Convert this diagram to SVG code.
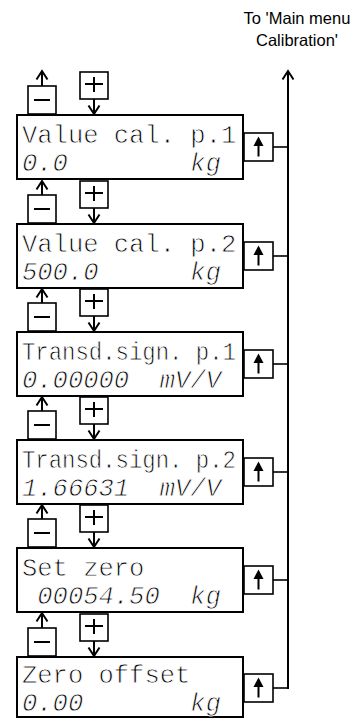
<svg xmlns="http://www.w3.org/2000/svg" width="353" height="719" viewBox="0 0 353 719">
<style>
.scr{fill:#fff;stroke:#000;stroke-width:2}
.btn{fill:#fff;stroke:#000;stroke-width:1.6}
.sym{stroke:#000;stroke-width:2;fill:none}
.ln{stroke:#000;stroke-width:1.6;fill:none}
.arr{stroke:#000;stroke-width:2;fill:none;marker-end:url(#open)}
.t1{font-family:"Liberation Mono","Courier New",monospace;font-size:25.5px;fill:#000;stroke:#fff;stroke-width:0.8px}
.t2{font-family:"Liberation Mono","Courier New",monospace;font-size:25.5px;font-style:italic;fill:#000;stroke:#fff;stroke-width:0.8px}
.hd{font-family:"Liberation Sans",Arial,sans-serif;font-size:16.5px;fill:#000;text-anchor:middle}
</style>
<defs>
<marker id="open" markerUnits="userSpaceOnUse" markerWidth="10" markerHeight="12" viewBox="0 0 10 12" refX="9" refY="6" orient="auto" overflow="visible">
<path d="M0.5,0.5 L9,6 L0.5,11.5" fill="none" stroke="#000" stroke-width="2"/>
</marker>
<g id="upbtn">
<rect class="btn" x="0" y="0" width="29" height="28"/>
<polygon points="9.5,13 14.5,3.5 19.5,13" fill="#000"/>
<rect x="13.5" y="12" width="2" height="11.5" fill="#000"/>
</g>
<g id="minus">
<rect class="btn" x="0" y="0" width="28" height="28"/>
<line class="sym" x1="6" y1="14" x2="22" y2="14"/>
</g>
<g id="plus">
<rect class="btn" x="0" y="0" width="28" height="27"/>
<line class="sym" x1="5" y1="12" x2="23" y2="12"/>
<line class="sym" x1="14" y1="5" x2="14" y2="20"/>
</g>
</defs>
<rect width="353" height="719" fill="#fff"/>

<g id="header">
<text class="hd" x="297" y="24">To 'Main menu</text>
<text class="hd" x="297" y="46">Calibration'</text>
</g>

<g id="connectors">
<line class="arr" x1="288" y1="689" x2="288" y2="71"/>
<line class="ln" x1="273" y1="147" x2="288" y2="147"/>
<line class="ln" x1="273" y1="256" x2="288" y2="256"/>
<line class="ln" x1="273" y1="364" x2="288" y2="364"/>
<line class="ln" x1="273" y1="472" x2="288" y2="472"/>
<line class="ln" x1="273" y1="580" x2="288" y2="580"/>
<line class="ln" x1="273" y1="688" x2="288" y2="688"/>
<line class="arr" x1="42" y1="86" x2="42" y2="71"/>
<line class="arr" x1="94" y1="99" x2="94" y2="114"/>
<line class="arr" x1="42" y1="195" x2="42" y2="181"/>
<line class="arr" x1="94" y1="208" x2="94" y2="223"/>
<line class="arr" x1="42" y1="303" x2="42" y2="289"/>
<line class="arr" x1="94" y1="316" x2="94" y2="331"/>
<line class="arr" x1="42" y1="411" x2="42" y2="397"/>
<line class="arr" x1="94" y1="424" x2="94" y2="439"/>
<line class="arr" x1="42" y1="519" x2="42" y2="505"/>
<line class="arr" x1="94" y1="532" x2="94" y2="547"/>
<line class="arr" x1="42" y1="628" x2="42" y2="613"/>
<line class="arr" x1="94" y1="641" x2="94" y2="656"/>
</g>

<g id="node1">
<use href="#minus" x="28" y="86"/>
<use href="#plus" x="80" y="72"/>
<rect class="scr" x="17" y="115" width="226" height="64"/>
<text class="t1" x="22" y="143">Value cal. p.1</text>
<text class="t2" x="22" y="171" xml:space="preserve">0.0        kg</text>
<use href="#upbtn" x="244" y="133"/>
</g>

<g id="node2">
<use href="#minus" x="28" y="195"/>
<use href="#plus" x="80" y="181"/>
<rect class="scr" x="17" y="224" width="226" height="64"/>
<text class="t1" x="22" y="252">Value cal. p.2</text>
<text class="t2" x="22" y="280" xml:space="preserve">500.0      kg</text>
<use href="#upbtn" x="244" y="242"/>
</g>

<g id="node3">
<use href="#minus" x="28" y="303"/>
<use href="#plus" x="80" y="289"/>
<rect class="scr" x="17" y="332" width="226" height="64"/>
<text class="t1" x="22" y="360" textLength="214" lengthAdjust="spacingAndGlyphs">Transd.sign. p.1</text>
<text class="t2" x="22" y="388" xml:space="preserve">0.00000  mV/V</text>
<use href="#upbtn" x="244" y="350"/>
</g>

<g id="node4">
<use href="#minus" x="28" y="411"/>
<use href="#plus" x="80" y="397"/>
<rect class="scr" x="17" y="440" width="226" height="64"/>
<text class="t1" x="22" y="468" textLength="214" lengthAdjust="spacingAndGlyphs">Transd.sign. p.2</text>
<text class="t2" x="22" y="496" xml:space="preserve">1.66631  mV/V</text>
<use href="#upbtn" x="244" y="458"/>
</g>

<g id="node5">
<use href="#minus" x="28" y="519"/>
<use href="#plus" x="80" y="505"/>
<rect class="scr" x="17" y="548" width="226" height="64"/>
<text class="t1" x="22" y="576">Set zero</text>
<text class="t2" x="22" y="604" xml:space="preserve"> 00054.50  kg</text>
<use href="#upbtn" x="244" y="566"/>
</g>

<g id="node6">
<use href="#minus" x="28" y="628"/>
<use href="#plus" x="80" y="614"/>
<rect class="scr" x="17" y="657" width="226" height="60"/>
<text class="t1" x="22" y="683">Zero offset</text>
<text class="t2" x="22" y="711" xml:space="preserve">0.00       kg</text>
<use href="#upbtn" x="244" y="674"/>
</g>
</svg>
